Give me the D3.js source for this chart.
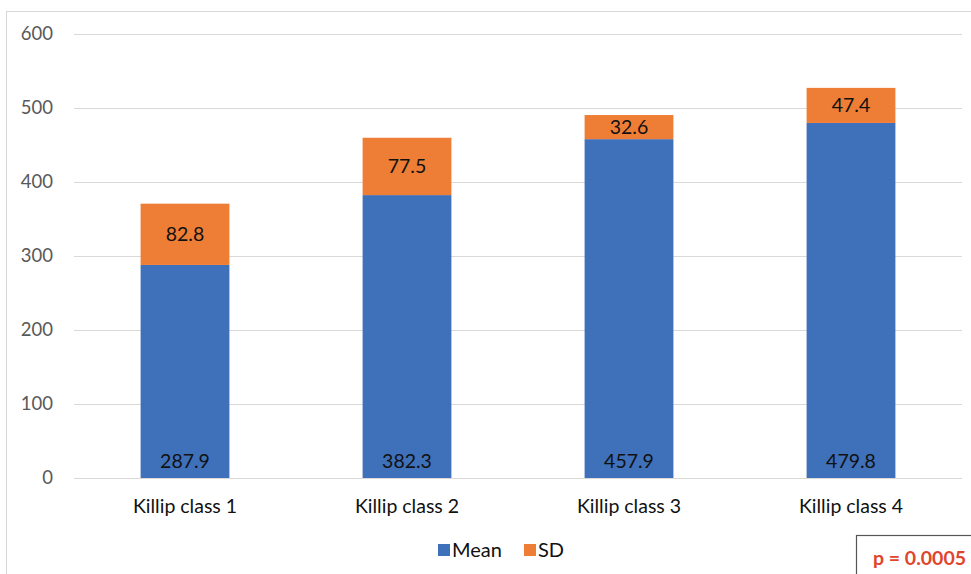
<!DOCTYPE html>
<html>
<head>
<meta charset="utf-8">
<script src="https://cdn.jsdelivr.net/npm/d3@7"></script>
<style>
  html, body { margin: 0; padding: 0; background: #fff; }
  svg { display: block; }
</style>
</head>
<body>
<svg id="chart" width="971" height="574"></svg>
<script>
// Killip class data: mean value with SD stacked on top
const categories = ["Killip class 1", "Killip class 2", "Killip class 3", "Killip class 4"];
const meanValues = [287.9, 382.3, 457.9, 479.8];
const sdValues = [82.8, 77.5, 32.6, 47.4];
const yTicks = [0, 100, 200, 300, 400, 500, 600];
const seriesNames = ["Mean", "SD"];
const pValueText = "p = 0.0005";

const colors = { Mean: "#3F70BA", SD: "#EE7E36" };
const font = "Lato, 'Open Sans', 'Liberation Sans', sans-serif";

const svg = d3.select("#chart");
const W = 971, H = 574;

// Chart frame
svg.append("rect")
  .attr("x", 6.5).attr("y", 11.5)
  .attr("width", W + 10).attr("height", H + 10)
  .attr("fill", "#fff")
  .attr("stroke", "#d9d6d3").attr("stroke-width", 1);

const plot = { left: 74, right: 962, top: 34, bottom: 478 };

const x = d3.scaleBand()
  .domain(categories)
  .range([plot.left, plot.right])
  .paddingInner(0.6)
  .paddingOuter(0.3);

const y = d3.scaleLinear()
  .domain([0, 600])
  .range([plot.bottom, plot.top]);

// Gridlines + y labels via axis
const yAxis = d3.axisLeft(y)
  .tickValues(yTicks)
  .tickSize(-(plot.right - plot.left))
  .tickPadding(21);

const gy = svg.append("g")
  .attr("transform", `translate(${plot.left},0)`)
  .call(yAxis);
gy.select(".domain").remove();
gy.selectAll(".tick line").attr("stroke", "#dcd8d5").attr("stroke-width", 1.2);
gy.selectAll(".tick text")
  .attr("fill", "#595959")
  .attr("font-family", font)
  .attr("font-size", 18.5);

// Stacked bars
const rows = categories.map((c, i) => ({ cat: c, Mean: meanValues[i], SD: sdValues[i] }));
const stack = d3.stack().keys(seriesNames)(rows);

const layers = svg.append("g").selectAll("g")
  .data(stack)
  .join("g")
  .attr("fill", d => colors[d.key]);

layers.selectAll("rect")
  .data(d => d)
  .join("rect")
  .attr("x", d => x(d.data.cat))
  .attr("width", x.bandwidth())
  .attr("y", d => y(d[1]))
  .attr("height", d => y(d[0]) - y(d[1]));

// Value labels
const labels = svg.append("g")
  .attr("font-family", font)
  .attr("font-size", 19.5)
  .attr("fill", "#111")
  .attr("text-anchor", "middle");

labels.selectAll("text.mean")
  .data(rows)
  .join("text")
  .attr("class", "mean")
  .attr("x", d => x(d.cat) + x.bandwidth() / 2)
  .attr("y", y(0) - 10)
  .text(d => d.Mean.toFixed(1));

labels.selectAll("text.sd")
  .data(rows)
  .join("text")
  .attr("class", "sd")
  .attr("x", d => x(d.cat) + x.bandwidth() / 2)
  .attr("y", d => (y(d.Mean) + y(d.Mean + d.SD)) / 2)
  .attr("dy", "0.35em")
  .text(d => d.SD.toFixed(1));

// Category axis labels
const xAxis = d3.axisBottom(x).tickSize(0).tickPadding(21);
const gx = svg.append("g")
  .attr("transform", `translate(0,${plot.bottom})`)
  .call(xAxis);
gx.select(".domain").remove();
gx.selectAll(".tick text")
  .attr("fill", "#111")
  .attr("font-family", font)
  .attr("font-size", 19.5);

// Legend
const legend = svg.append("g").attr("font-family", font).attr("font-size", 20).attr("fill", "#111");
const legendItems = [
  { name: seriesNames[0], x: 438 },
  { name: seriesNames[1], x: 524 }
];
const li = legend.selectAll("g").data(legendItems).join("g")
  .attr("transform", d => `translate(${d.x},544)`);
li.append("rect").attr("width", 12).attr("height", 12).attr("fill", d => colors[d.name]);
li.append("text").attr("x", 14).attr("y", 6).attr("dy", "0.36em").text(d => d.name);

// p-value box
svg.append("rect")
  .attr("x", 856.5).attr("y", 535.5)
  .attr("width", 130).attr("height", 60)
  .attr("fill", "#fff")
  .attr("stroke", "#555").attr("stroke-width", 1.2);
svg.append("text")
  .attr("x", 873).attr("y", 558)
  .attr("dy", "0.35em")
  .attr("font-family", font)
  .attr("font-size", 19.5)
  .attr("font-weight", "bold")
  .attr("fill", "#e0452b")
  .text(pValueText);
</script>
</body>
</html>
